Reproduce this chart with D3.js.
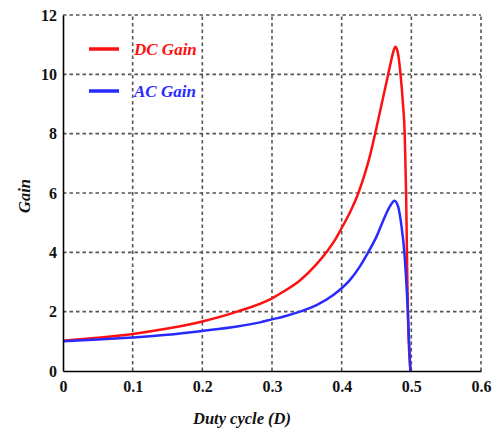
<!DOCTYPE html>
<html>
<head>
<meta charset="utf-8">
<script src="https://cdn.jsdelivr.net/npm/d3@7"></script>
<style>
  html, body { margin: 0; padding: 0; background: #fff; }
  svg { display: block; }
  .tick-label { font-family: "Liberation Serif", "Times New Roman", serif; font-weight: bold; font-size: 16px; fill: #111; }
  .axis-title { font-family: "Liberation Serif", "Times New Roman", serif; font-weight: bold; font-style: italic; font-size: 16.5px; fill: #111; }
  .legend-text { font-family: "Liberation Serif", "Times New Roman", serif; font-style: italic; font-weight: bold; font-size: 17px; }
</style>
</head>
<body>
<svg id="chart" width="503" height="435"></svg>
<script>
// Tick values
const xTicks = [0, 0.1, 0.2, 0.3, 0.4, 0.5, 0.6];
const yTicks = [0, 2, 4, 6, 8, 10, 12];

// DC gain vs duty cycle
const dcDuty = [0, 0.05, 0.1, 0.15, 0.2, 0.25, 0.3, 0.316, 0.34, 0.364, 0.378, 0.39, 0.4, 0.412, 0.424, 0.432, 0.44, 0.448, 0.456, 0.464, 0.47, 0.474, 0.477, 0.48, 0.4845, 0.488, 0.4905, 0.4925, 0.494, 0.4955, 0.499];
const dcGain = [1.02, 1.12, 1.25, 1.43, 1.67, 2.0, 2.45, 2.67, 3.05, 3.6, 4.0, 4.4, 4.82, 5.35, 6.0, 6.55, 7.2, 8.0, 8.85, 9.7, 10.35, 10.75, 10.93, 10.8, 10.0, 9.0, 8.0, 6.0, 3.5, 1.5, 0];

// AC gain vs duty cycle
const acDuty = [0, 0.05, 0.1, 0.15, 0.2, 0.25, 0.283, 0.3, 0.316, 0.34, 0.364, 0.388, 0.412, 0.426, 0.438, 0.45, 0.462, 0.469, 0.476, 0.481, 0.486, 0.49, 0.495, 0.4985];
const acGain = [1.0, 1.06, 1.13, 1.22, 1.35, 1.5, 1.64, 1.74, 1.83, 2.0, 2.22, 2.56, 3.07, 3.52, 4.0, 4.53, 5.2, 5.54, 5.74, 5.55, 4.86, 4.0, 2.0, 0];

const seriesNames = ["DC Gain", "AC Gain"];
const seriesColors = ["#ff1010", "#2a2aff"];

const svg = d3.select("#chart");
const margin = { top: 15, right: 22, bottom: 64, left: 63 };
const W = 503, H = 435;
const x = d3.scaleLinear().domain([0, 0.6]).range([margin.left, W - margin.right]);
const y = d3.scaleLinear().domain([0, 12]).range([H - margin.bottom, margin.top]);

// dashed grid
const grid = svg.append("g").attr("stroke", "#555").attr("stroke-width", 1.6).attr("stroke-dasharray", "3.5,3");
grid.selectAll("line.v").data(xTicks.filter(d => d > 0)).join("line")
  .attr("x1", d => x(d)).attr("x2", d => x(d))
  .attr("y1", y(0)).attr("y2", y(12));
grid.selectAll("line.h").data(yTicks.filter(d => d > 0)).join("line")
  .attr("x1", x(0)).attr("x2", x(0.6))
  .attr("y1", d => y(d)).attr("y2", d => y(d));

// curves
const line = d3.line().x(d => x(d[0])).y(d => y(d[1])).curve(d3.curveMonotoneX);
const series = [
  d3.zip(dcDuty, dcGain),
  d3.zip(acDuty, acGain)
];
svg.append("path").datum(series[0]).attr("d", line)
  .attr("fill", "none").attr("stroke", seriesColors[0]).attr("stroke-width", 2.5);
svg.append("path").datum(series[1]).attr("d", line)
  .attr("fill", "none").attr("stroke", seriesColors[1]).attr("stroke-width", 2.5);

// axes
const xAxis = svg.append("g").attr("transform", `translate(0,${y(0)})`)
  .call(d3.axisBottom(x).tickValues(xTicks).tickSize(0).tickPadding(10).tickFormat(d => d === 0 ? "0" : d3.format(".1f")(d)));
const yAxis = svg.append("g").attr("transform", `translate(${x(0)},0)`)
  .call(d3.axisLeft(y).tickValues(yTicks).tickSize(0).tickPadding(6));
[xAxis, yAxis].forEach(a => {
  a.select(".domain").attr("stroke", "#000").attr("stroke-width", 1.6);
  a.selectAll("text").attr("class", "tick-label").attr("fill", null);
});

// axis titles
svg.append("text").attr("class", "axis-title")
  .attr("x", 242).attr("y", 424).attr("text-anchor", "middle").text("Duty cycle (D)");
svg.append("text").attr("class", "axis-title")
  .attr("transform", `translate(30,196) rotate(-90)`).attr("text-anchor", "middle").text("Gain");

// legend
const legend = svg.append("g");
seriesNames.forEach((name, i) => {
  const ly = 49 + i * 42;
  legend.append("line").attr("x1", 89).attr("x2", 119).attr("y1", ly).attr("y2", ly)
    .attr("stroke", seriesColors[i]).attr("stroke-width", 3.5);
  legend.append("text").attr("class", "legend-text").attr("x", 134).attr("y", ly + 5.5)
    .attr("fill", seriesColors[i]).text(name);
});
</script>
</body>
</html>
